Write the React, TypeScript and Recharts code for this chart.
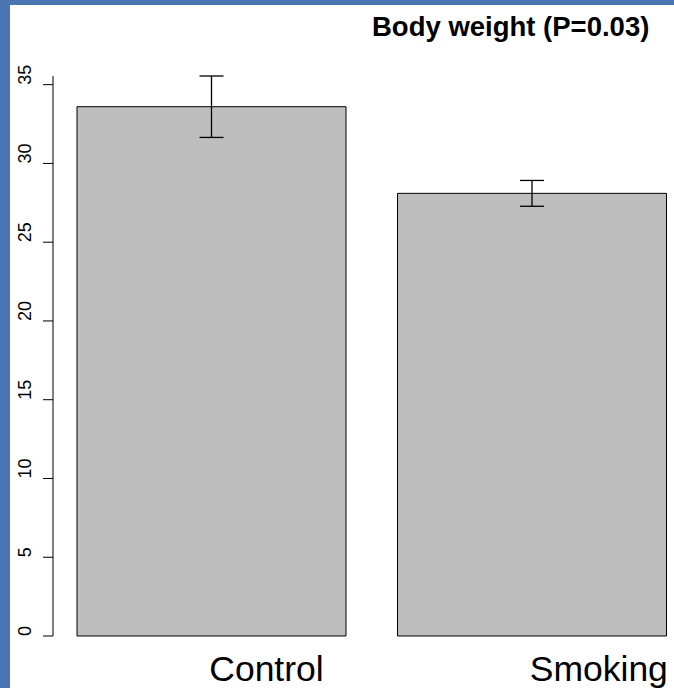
import React from "react";
import { BarChart, Bar, XAxis, YAxis, ErrorBar } from "recharts";

const categories = ["Control", "Smoking"];
const means = [33.6, 28.1];
const errors = [1.95, 0.82];
const yTicks = [0, 5, 10, 15, 20, 25, 30, 35];
const title = "Body weight (P=0.03)";

const data = categories.map((c, i) => ({ name: c, value: means[i], err: errors[i] }));

const FONT = "'Liberation Sans', Arial, Helvetica, sans-serif";

const YTick = (props: any) => {
  const { y, payload } = props;
  return (
    <text
      transform={`translate(31, ${y}) rotate(-90)`}
      textAnchor="start"
      fontFamily={FONT}
      fontSize={18}
      fill="#000"
    >
      {payload.value}
    </text>
  );
};

const XTick = (props: any) => {
  const { x, y, payload } = props;
  return (
    <text x={x - 2} y={y + 43} textAnchor="start" fontFamily={FONT} fontSize={35.5} fill="#000">
      {payload.value}
    </text>
  );
};

export default function App() {
  return (
    <div
      style={{
        position: "absolute",
        left: 0,
        top: 0,
        width: 674,
        height: 688,
        overflow: "hidden",
        background: "#fff",
      }}
    >
      <BarChart
        width={692}
        height={688}
        data={data}
        margin={{ top: 76, right: 0, bottom: 0, left: 0 }}
        barCategoryGap={26}
      >
        <XAxis
          dataKey="name"
          axisLine={false}
          tickLine={false}
          tickSize={0}
          height={52}
          tick={<XTick />}
          padding={{ left: -2, right: 0 }}
          interval={0}
        />
        <YAxis
          width={53}
          domain={[0, 35]}
          ticks={yTicks}
          interval={0}
          tickSize={10}
          axisLine={{ stroke: "#000", strokeWidth: 1 }}
          tickLine={{ stroke: "#000", strokeWidth: 1 }}
          tick={<YTick />}
        />
        <Bar dataKey="value" fill="#bebebe" stroke="#000" strokeWidth={1} isAnimationActive={false}>
          <ErrorBar dataKey="err" width={12} stroke="#000" strokeWidth={1.3} />
        </Bar>
      </BarChart>
      <svg
        width={674}
        height={688}
        style={{ position: "absolute", left: 0, top: 0, pointerEvents: "none" }}
      >
        <rect x={0} y={0} width={10} height={688} fill="#4a74b2" />
        <rect x={0} y={0} width={674} height={5} fill="#4a74b2" />
        <text x={372} y={36} fontFamily={FONT} fontWeight="bold" fontSize={27.5} fill="#000">
          {title}
        </text>
      </svg>
    </div>
  );
}
